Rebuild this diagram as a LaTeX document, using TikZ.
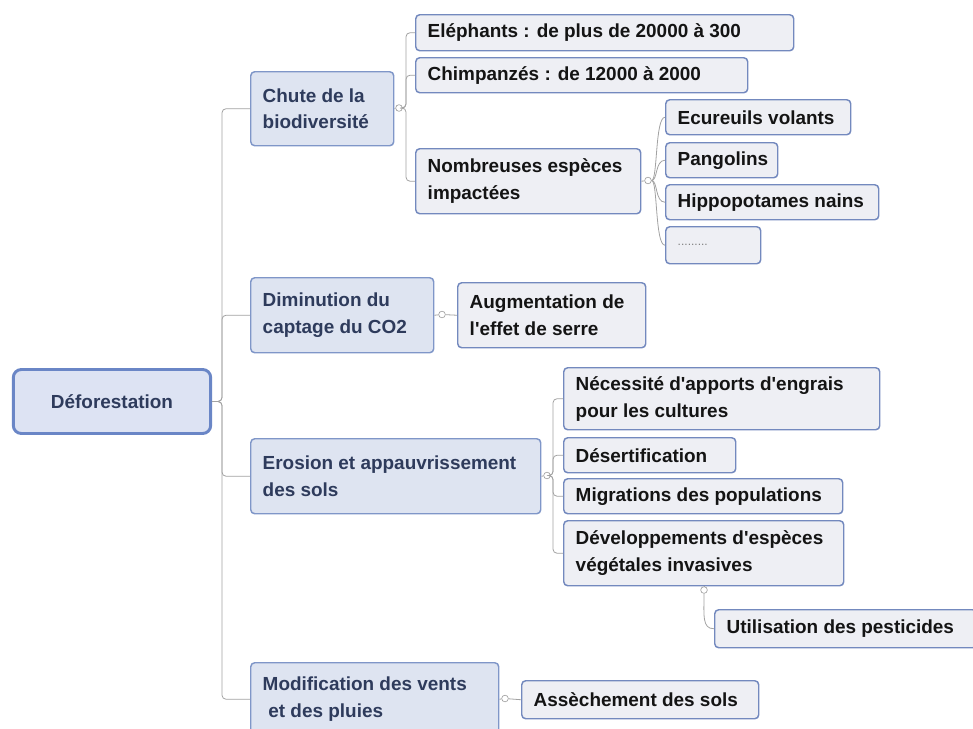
\documentclass[tikz,border=0pt]{standalone}
\usepackage{fontspec}
\setmainfont{Liberation Sans}
\usetikzlibrary{positioning, calc}
\definecolor{rootFill}{HTML}{DDE3F3}
\definecolor{rootLine}{HTML}{6A86C6}
\definecolor{topicFill}{HTML}{DEE4F1}
\definecolor{topicLine}{HTML}{7F96C8}
\definecolor{topicText}{HTML}{2E3B5C}
\definecolor{leafFill}{HTML}{EEEFF4}
\definecolor{leafLine}{HTML}{7389BE}
\definecolor{leafText}{HTML}{141414}
\definecolor{linkGrey}{HTML}{A2A2A2}
\newcommand{\apos}{\textquotesingle}

\begin{document}
\begin{tikzpicture}[x=0.75pt, y=-0.75pt,
  every node/.style={font=\bfseries\fontsize{14.2}{20}\selectfont},
  root/.style={draw=rootLine, fill=rootFill, line width=2.2pt, rounded corners=6pt,
    minimum width=148pt, minimum height=48pt, text=topicText},
  topic/.style={draw=topicLine, fill=topicFill, line width=1.1pt, rounded corners=3pt,
    anchor=north west, align=flush left, inner xsep=9pt, inner ysep=2pt, text=topicText},
  leaf/.style={topic, fill=leafFill, draw=leafLine, text=leafText},
  hub/.style={circle, draw=linkGrey, fill=white, inner sep=0pt, minimum size=5pt, line width=0.5pt},
  link/.style={draw=linkGrey, line width=0.6pt, rounded corners=3pt}]
  \useasboundingbox (0,0) rectangle (973,728);

  % Root
  \node[root] (defo) at (112,401.5) {Déforestation};

  % Main branches
  \node[topic, text width=89.25pt, minimum height=55.5pt] (chute) at (250,71) {Chute de la\\biodiversité};
  \node[topic, text width=119.25pt, minimum height=56.25pt] (dimi) at (250,277) {Diminution du\\captage du CO2};
  \node[topic, text width=199.5pt, minimum height=56.25pt] (eros) at (250,438) {Erosion et appauvrissement\\des sols};
  \node[topic, text width=168pt, minimum height=54.75pt] (modif) at (250,662) {Modification des vents\\\hspace*{0.3em}et des pluies};

  % Biodiversity
  \node[leaf, text width=265.5pt, minimum height=27pt] (eleph) at (415,14) {Eléphants : de plus de 20000 à 300};
  \node[leaf, text width=231pt, minimum height=26.25pt] (chimp) at (415,57) {Chimpanzés : de 12000 à 2000};
  \node[leaf, text width=150.75pt, minimum height=48.75pt] (nomb) at (415,148) {Nombreuses espèces\\impactées};
  \node[leaf, text width=120.75pt, minimum height=26.25pt] (ecur) at (665,99) {Ecureuils volants};
  \node[leaf, text width=66pt, minimum height=26.25pt] (pango) at (665,142) {Pangolins};
  \node[leaf, text width=141.75pt, minimum height=26.25pt] (hippo) at (665,184) {Hippopotames nains};
  \node[leaf, text width=53.25pt, minimum height=27.75pt, text=gray] (dots) at (665,226) {\mdseries\fontsize{9}{12}\selectfont .........};

  % CO2
  \node[leaf, text width=123pt, minimum height=48.75pt] (augm) at (457,282) {Augmentation de\\l\apos effet de serre};

  % Soils
  \node[leaf, text width=219pt, minimum height=46.5pt] (neces) at (563,367) {Nécessité d\apos apports d\apos engrais\\pour les cultures};
  \node[leaf, text width=111pt, minimum height=26.25pt] (desert) at (563,437) {Désertification};
  \node[leaf, text width=191.25pt, minimum height=26.25pt] (migr) at (563,478) {Migrations des populations};
  \node[leaf, text width=192pt, minimum height=48.75pt] (devel) at (563,520) {Développements d\apos espèces\\végétales invasives};
  \node[leaf, text width=178.5pt, minimum height=28.5pt] (utili) at (714,609) {Utilisation des pesticides};

  % Winds
  \node[leaf, text width=159.75pt, minimum height=28.5pt] (asse) at (521,680) {Assèchement des sols};

  % Trunk
  \coordinate (trunk) at (222,401.5);
  \foreach \k in {chute, dimi, eros, modif}
    \draw[link] (defo.east) -- (trunk) |- (\k.west);

  % Hubs and brackets
  \node[hub] (chuteHub) at (399,108) {};
  \coordinate (chuteBar) at (406,108);
  \draw[link] (chute.east) -- (chuteHub);
  \foreach \k in {eleph, chimp, nomb}
    \draw[link] (chuteHub) -- (chuteBar) |- (\k.west);

  \node[hub] (nombHub) at (648,180.5) {};
  \draw[link] (nomb.east) -- (nombHub);
  \foreach \k in {ecur, pango, hippo, dots}
    \draw[link] (nombHub.east) .. controls +(6,0) and +(-10,0) .. (\k.west);

  \node[hub] (dimiHub) at (442,314.5) {};
  \draw[link] (dimi.east) -- (dimiHub) -- (augm.west);

  \node[hub] (erosHub) at (547,475.5) {};
  \coordinate (erosBar) at (553,475.5);
  \draw[link] (eros.east) -- (erosHub);
  \foreach \k in {neces, desert, migr, devel}
    \draw[link] (erosHub) -- (erosBar) |- (\k.west);

  \node[hub] (develHub) at (704,590) {};
  \draw[link] (develHub) -- (develHub |- devel.south);
  \draw[link] (develHub.south) .. controls +(0,22) and +(-12,0) .. (utili.west);

  \node[hub] (modifHub) at (505,698.5) {};
  \draw[link] (modif.east) -- (modifHub) -- (asse.west);
\end{tikzpicture}
\end{document}
